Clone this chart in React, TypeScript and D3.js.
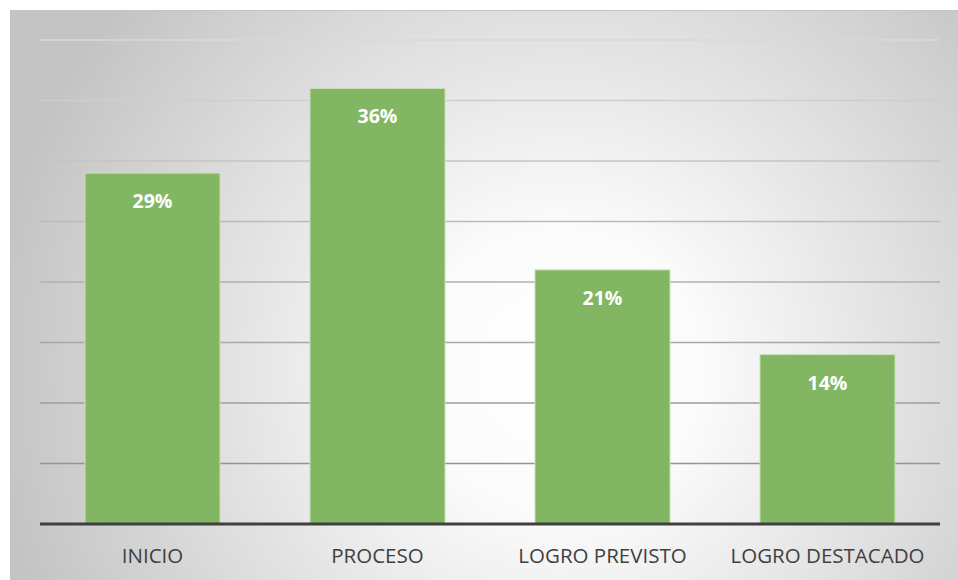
import React from "react";
import * as d3 from "d3";

const categories = ["INICIO", "PROCESO", "LOGRO PREVISTO", "LOGRO DESTACADO"];
const values = [29, 36, 21, 14];
const labels = ["29%", "36%", "21%", "14%"];
const yTicks = [0, 5, 10, 15, 20, 25, 30, 35, 40];

const W = 958;
const H = 580;
const plot = { left: 40, right: 940, top: 40, bottom: 524 };

export default function App() {
  const x = d3
    .scaleBand<string>()
    .domain(categories)
    .range([plot.left, plot.right])
    .paddingInner(0.4)
    .paddingOuter(0.2);
  const y = d3.scaleLinear().domain([0, 40]).range([plot.bottom, plot.top]);
  const gridColor = d3
    .scaleLinear<string>()
    .domain([plot.top, plot.bottom])
    .range(["#d8d8d8", "#8a8a8a"]);

  return (
    <svg
      width={W}
      height={H}
      style={{ position: "absolute", left: 0, top: 0, display: "block" }}
    >
      <defs>
        <radialGradient
          id="bg"
          gradientUnits="userSpaceOnUse"
          cx={560}
          cy={370}
          r={570}
        >
          <stop offset="0" stopColor="#ffffff" />
          <stop offset="0.25" stopColor="#fbfbfb" />
          <stop offset="1" stopColor="#c4c4c4" />
        </radialGradient>
      </defs>
      <rect x={0} y={0} width={W} height={H} fill="#ffffff" />
      <rect x={10} y={10} width={W - 10} height={H - 10} fill="url(#bg)" />
      <line x1={10} x2={W} y1={10.5} y2={10.5} stroke="#c4c4c4" strokeWidth={1} />
      <line x1={10.5} x2={10.5} y1={10} y2={H} stroke="#c4c4c4" strokeWidth={1} />
      {yTicks
        .filter((t) => t > 0)
        .map((t) => (
          <line
            key={t}
            x1={plot.left}
            x2={plot.right}
            y1={y(t)}
            y2={y(t)}
            stroke={gridColor(y(t))}
            strokeWidth={1.3}
          />
        ))}
      {categories.map((c, i) => (
        <g key={c}>
          <rect
            x={x(c)!}
            y={y(values[i])}
            width={x.bandwidth()}
            height={y(0) - y(values[i])}
            fill="#82b662"
            stroke="#c8e0b8"
            strokeWidth={1}
          />
          <text
            x={x(c)! + x.bandwidth() / 2}
            y={y(values[i]) + 35}
            textAnchor="middle"
            fill="#ffffff"
            fontFamily="'Open Sans', sans-serif"
            fontWeight={700}
            fontSize={19.5}
          >
            {labels[i]}
          </text>
          <text
            x={x(c)! + x.bandwidth() / 2}
            y={563}
            textAnchor="middle"
            fill="#404040"
            fontFamily="'Open Sans', sans-serif"
            fontSize={20.5}
          >
            {c}
          </text>
        </g>
      ))}
      <line
        x1={plot.left}
        x2={plot.right}
        y1={y(0)}
        y2={y(0)}
        stroke="#404040"
        strokeWidth={3}
      />
    </svg>
  );
}
